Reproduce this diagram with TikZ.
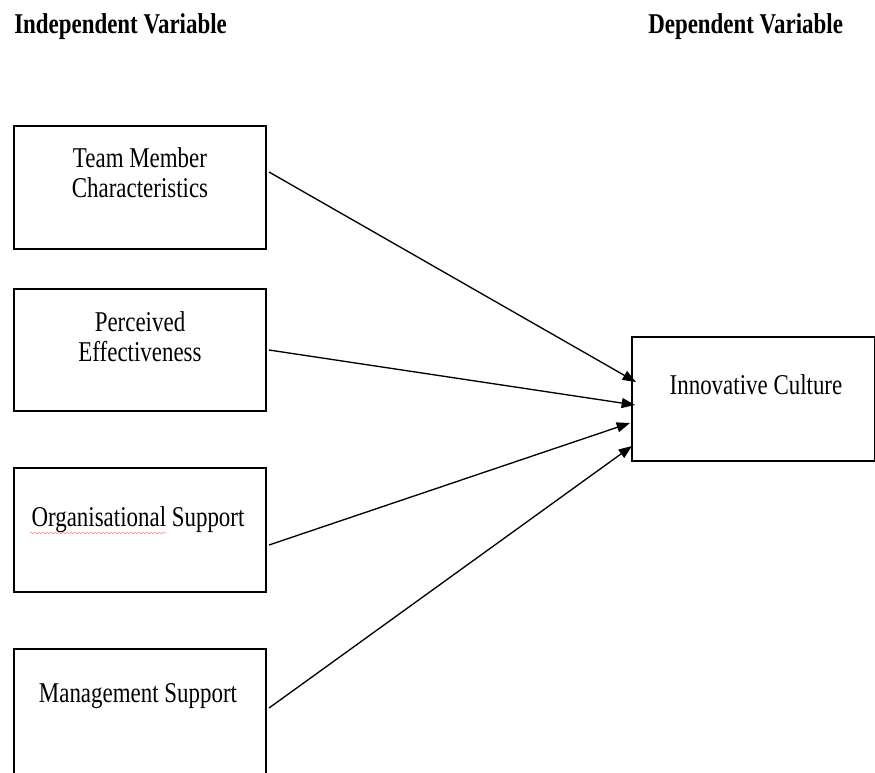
\documentclass[tikz,border=0pt]{standalone}
\usepackage{fontspec}
\setmainfont[FakeStretch=0.8]{Liberation Serif}
\usetikzlibrary{arrows.meta,decorations.pathmorphing}
\begin{document}
\begin{tikzpicture}[x=0.75pt,y=-0.75pt,
  box/.style={draw,line width=1.3pt,inner sep=0,minimum width=189pt,minimum height=92.25pt},
  lbl/.style={inner sep=0,align=center,font=\fontsize{21.5}{22.5}\selectfont},
  head/.style={inner sep=0,anchor=west,font=\bfseries\fontsize{21.5}{24}\selectfont},
  arr/.style={line width=1pt,-{Triangle[length=10pt,width=7.5pt]}}]
\fill[white] (0,0) rectangle (875,772);
\useasboundingbox (0,0) rectangle (875,772);

% column headings
\node[head] (indep) at (14,27) {Independent Variable};
\node[head] (dep) at (648,27) {Dependent Variable};

% independent variables
\node[box] (tm) at (140,187.5) {};
\node[lbl] (tmt) at (140,173) {Team Member\\Characteristics};

\node[box,minimum height=91.5pt] (pe) at (140,350) {};
\node[lbl] (pet) at (140,337) {Perceived\\Effectiveness};

\node[box,minimum height=93pt] (os) at (140,530) {};
\node[lbl] (ost) at (138,520) {Organisational Support};
\draw[red!70,line width=0.5pt,opacity=0.6,
  decorate,decoration={snake,amplitude=0.6pt,segment length=3pt}]
  (30,533) -- (166,533);

\node[box,minimum height=112.5pt] (ms) at (140,724) {};
\node[lbl] (mst) at (138,696) {Management Support};

% dependent variable
\node[box,minimum width=182.25pt,minimum height=93pt] (ic) at (753.5,399) {};
\node[lbl] (ict) at (756,385) {Innovative Culture};

% connector end points
\coordinate (s1) at (269,172);
\coordinate (s2) at (269,350);
\coordinate (s3) at (269,545);
\coordinate (s4) at (269,708);
\coordinate (e1) at (636,382);
\coordinate (e2) at (635,405);
\coordinate (e3) at (630,423);
\coordinate (e4) at (632,446);

\draw[arr] (s1) -- (e1);
\draw[arr] (s2) -- (e2);
\draw[arr] (s3) -- (e3);
\draw[arr] (s4) -- (e4);
\end{tikzpicture}
\end{document}
